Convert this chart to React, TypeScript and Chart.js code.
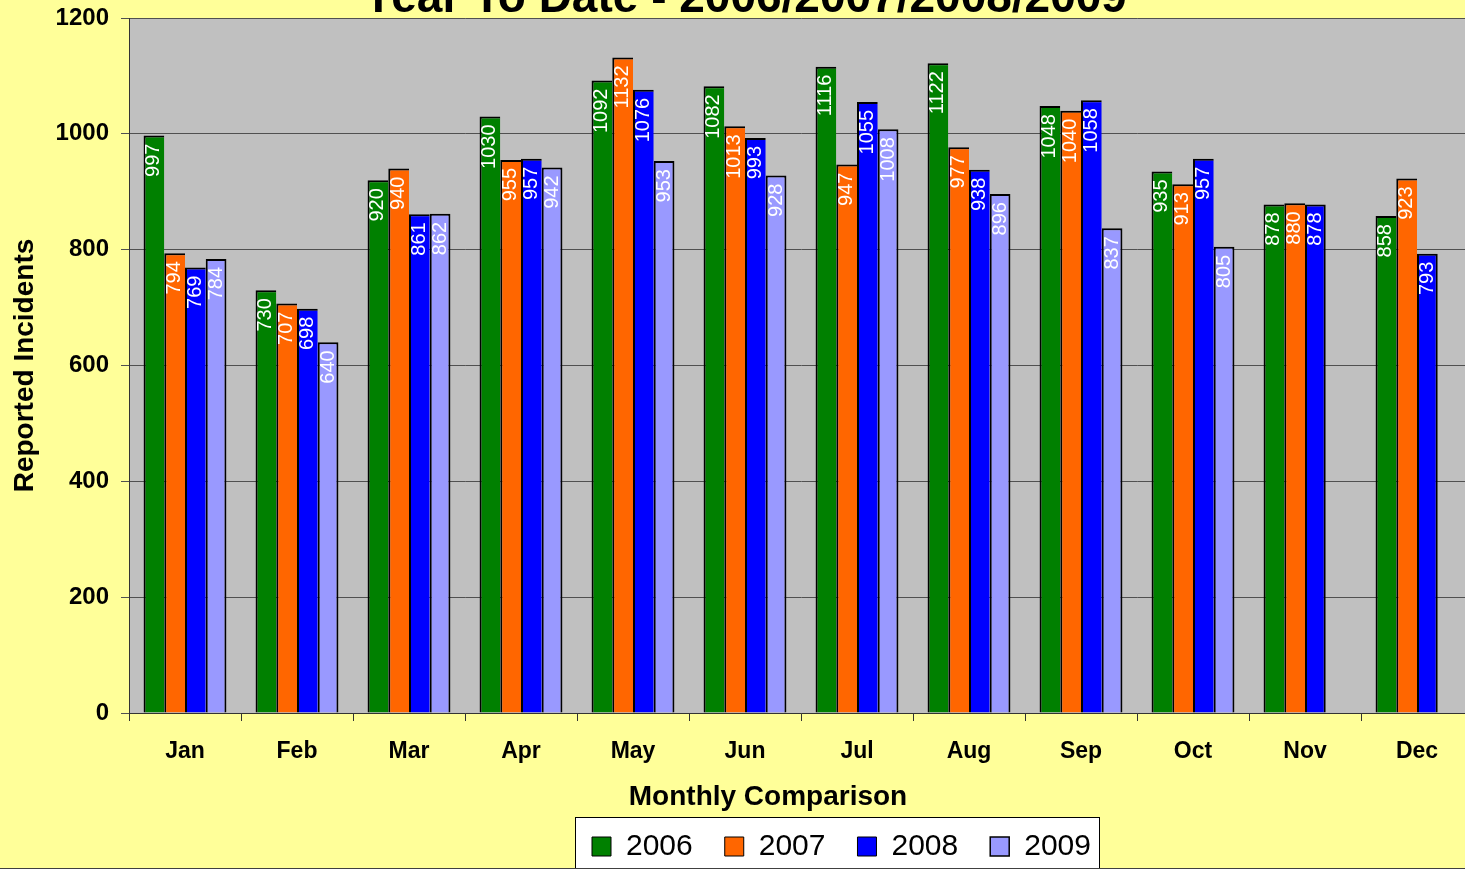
import React, { useEffect, useRef } from 'react';
import { Chart, registerables } from 'chart.js';

Chart.register(...registerables);

// ---- data ----
const MONTHS = ['Jan', 'Feb', 'Mar', 'Apr', 'May', 'Jun', 'Jul', 'Aug', 'Sep', 'Oct', 'Nov', 'Dec'];
const SERIES_NAMES = ['2006', '2007', '2008', '2009'];
const Y2006 = [997, 730, 920, 1030, 1092, 1082, 1116, 1122, 1048, 935, 878, 858];
const Y2007 = [794, 707, 940, 955, 1132, 1013, 947, 977, 1040, 913, 880, 923];
const Y2008 = [769, 698, 861, 957, 1076, 993, 1055, 938, 1058, 957, 878, 793];
const Y2009 = [784, 640, 862, 942, 953, 928, 1008, 896, 837, 805, null, null];
const Y_MIN = 0;
const Y_MAX = 1200;
const Y_STEP = 200;

const TITLE = 'Year To Date - 2006/2007/2008/2009';
const X_TITLE = 'Monthly Comparison';
const Y_TITLE = 'Reported Incidents';

// ---- styling ----
const COLORS = ['#008000', '#FF6600', '#0000FF', '#9999FF'];
const FONT = '"Liberation Sans", Arial, Helvetica, sans-serif';
const W = 1480;
const H = 919;
const CUT = 30; // canvas is shifted up by this amount
const PLOT_BOTTOM = 713 + CUT;
const PLOT_LEFT = 129;

const bw = (c: any) => {
  if (c.type !== 'data') return 1.5;
  const ds = c.chart.data.datasets;
  const next = ds[c.datasetIndex + 1];
  const isLast = !next || next.data[c.dataIndex] == null;
  return { top: 2, left: 2, right: isLast ? 2 : 0, bottom: 0 };
};

const excelPlugin = {
  id: 'excelLook',
  afterLayout(chart: any) {
    const t = chart.titleBlock;
    if (t) {
      const h = t.bottom - t.top;
      t.top = 6.4;
      t.bottom = t.top + h;
      t.left = 0;
      t.right = 745 * 2;
    }
    const sub = chart.boxes.find((b: any) => b !== t && b.options && b.options.text === X_TITLE);
    if (sub) {
      const h = sub.bottom - sub.top;
      sub.top = 827.3 - 16.8;
      sub.bottom = sub.top + h;
      sub.left = 0;
      sub.right = 768 * 2;
    }
    const lg = chart.legend;
    if (lg) {
      const h = lg.height;
      lg.left = 560;
      lg.right = chart.width;
      lg.width = lg.right - lg.left;
      lg.top = 829.5;
      lg.bottom = lg.top + h;
    }
  },
  beforeDraw(chart: any) {
    const { ctx, chartArea: a } = chart;
    ctx.save();
    ctx.fillStyle = '#FFFF99';
    ctx.fillRect(0, 0, chart.width, chart.height);
    ctx.fillStyle = '#C0C0C0';
    ctx.fillRect(a.left, a.top, a.right - a.left, a.bottom - a.top);
    // legend frame
    const lg = chart.legend;
    const fx = lg.left + 15;
    const fy = 817 + CUT;
    ctx.fillStyle = '#FFFFFF';
    ctx.fillRect(fx, fy, 524, 120);
    ctx.strokeStyle = '#000000';
    ctx.lineWidth = 1;
    ctx.strokeRect(Math.round(fx) + 0.5, fy + 0.5, 524, 120);
    // chart outer border (bottom)
    ctx.strokeStyle = '#404040';
    ctx.beginPath();
    ctx.moveTo(0, 868.5 + CUT);
    ctx.lineTo(chart.width, 868.5 + CUT);
    ctx.stroke();
    ctx.restore();
  },
  afterDatasetsDraw(chart: any) {
    const ctx = chart.ctx;
    ctx.save();
    ctx.font = '20px ' + FONT;
    ctx.fillStyle = '#FFFFFF';
    ctx.textAlign = 'right';
    ctx.textBaseline = 'middle';
    chart.data.datasets.forEach((ds: any, di: number) => {
      const meta = chart.getDatasetMeta(di);
      meta.data.forEach((bar: any, i: number) => {
        const v = ds.data[i];
        if (v == null) return;
        const { x, y } = bar.getProps(['x', 'y'], true);
        ctx.save();
        ctx.translate(x, y + 8);
        ctx.rotate(-Math.PI / 2);
        ctx.fillText(String(v), 0, 0);
        ctx.restore();
      });
    });
    ctx.restore();
  },
};

export default function App() {
  const ref = useRef<HTMLCanvasElement>(null);

  useEffect(() => {
    if (!ref.current) return;
    Chart.defaults.font.family = FONT;
    const seriesData = [Y2006, Y2007, Y2008, Y2009];
    const chart = new Chart(ref.current, {
      type: 'bar',
      data: {
        labels: MONTHS,
        datasets: SERIES_NAMES.map((name, i) => ({
          label: name,
          data: seriesData[i],
          backgroundColor: COLORS[i],
          borderColor: '#000000',
          borderWidth: bw,
          borderSkipped: 'start',
          barPercentage: 1,
          categoryPercentage: 0.74,
        })),
      },
      options: {
        responsive: false,
        animation: false,
        events: [],
        layout: { padding: { top: 2, right: 7, bottom: 0, left: 0 } },
        plugins: {
          tooltip: { enabled: false },
          title: {
            display: true,
            text: TITLE,
            color: '#000000',
            font: { size: 46, weight: 'bold', lineHeight: 1 },
            padding: { top: 0, bottom: 0 },
          },
          subtitle: {
            display: true,
            text: X_TITLE,
            position: 'bottom',
            weight: 500,
            color: '#000000',
            font: { size: 28, weight: 'bold', lineHeight: 1.2 },
            padding: { top: 0, bottom: 0 },
          },
          legend: {
            display: true,
            position: 'bottom',
            align: 'start',
            weight: 1000,
            labels: {
              color: '#000000',
              font: { size: 30 },
              boxWidth: 19,
              boxHeight: 19,
              padding: 32,
            },
          },
        },
        scales: {
          x: {
            grid: {
              offset: true,
              drawOnChartArea: false,
              drawTicks: true,
              tickLength: 8,
              color: '#333333',
            },
            border: { display: true, color: '#333333', width: 1 },
            ticks: {
              color: '#000000',
              font: { size: 23, weight: 'bold' },
              padding: 17,
              maxRotation: 0,
              autoSkip: false,
            },
            afterFit: (scale: any) => {
              const c = scale.chart;
              const others = c.boxes
                .filter((b: any) => b !== scale && b.fullSize && b.position === 'bottom')
                .reduce((s: number, b: any) => s + (b.height || 0), 0);
              scale.height = c.height - PLOT_BOTTOM - others;
            },
          },
          y: {
            min: Y_MIN,
            max: Y_MAX,
            grid: { color: '#505050', lineWidth: 1, tickLength: 8 },
            border: { display: true, color: '#333333', width: 1 },
            ticks: {
              stepSize: Y_STEP,
              color: '#000000',
              font: { size: 24, weight: 'bold' },
              padding: 12,
              callback: (v: any) => String(v),
            },
            title: {
              display: true,
              text: Y_TITLE,
              color: '#000000',
              font: { size: 28, weight: 'bold' },
              padding: { top: 8, bottom: 0 },
            },
            afterFit: (scale: any) => {
              scale.width = PLOT_LEFT;
            },
          },
        },
      },
      plugins: [excelPlugin],
    } as any);
    return () => chart.destroy();
  }, []);

  return (
    <div
      style={{
        position: 'fixed',
        left: 0,
        top: 0,
        width: 1465,
        height: 869,
        overflow: 'hidden',
        background: '#FFFF99',
      }}
    >
      <canvas
        ref={ref}
        width={W}
        height={H}
        style={{ position: 'absolute', left: 0, top: -CUT, width: W, height: H, display: 'block' }}
      />
    </div>
  );
}
